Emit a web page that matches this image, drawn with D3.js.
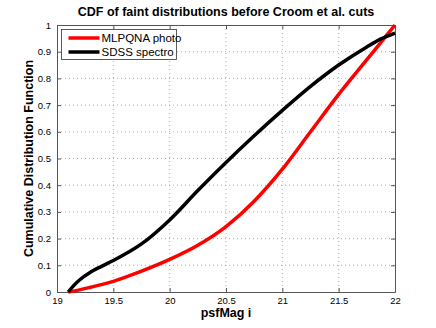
<!DOCTYPE html>
<html>
<head>
<meta charset="utf-8">
<script src="https://cdn.jsdelivr.net/npm/d3@7"></script>
<style>
  body { margin: 0; background: #fff; }
  svg { font-family: "Liberation Sans", Arial, sans-serif; }
  .grid line { stroke: #999; stroke-dasharray: 1,3; stroke-width: 0.8; }
</style>
</head>
<body>
<svg width="436" height="328"></svg>
<script>
// psfMag i values (x) for each series
const magsPhoto = [19.1, 19.2, 19.3, 19.5, 19.75, 20, 20.25, 20.5, 20.75, 21, 21.25, 21.5, 21.75, 21.875, 22];
const mlpqna    = [0, 0.008, 0.018, 0.04, 0.078, 0.122, 0.175, 0.245, 0.34, 0.46, 0.6, 0.74, 0.87, 0.935, 1.0];
const magsSpec  = [19.1, 19.15, 19.2, 19.3, 19.4, 19.5, 19.75, 20, 20.25, 20.5, 20.75, 21, 21.25, 21.5, 21.75, 21.875, 22];
const sdss      = [0, 0.025, 0.045, 0.075, 0.097, 0.118, 0.18, 0.27, 0.38, 0.485, 0.585, 0.68, 0.77, 0.85, 0.918, 0.948, 0.97];
const xTicks = [19, 19.5, 20, 20.5, 21, 21.5, 22];
const yTicks = [0, 0.1, 0.2, 0.3, 0.4, 0.5, 0.6, 0.7, 0.8, 0.9, 1];
const seriesNames = ["MLPQNA photo", "SDSS spectro"];
const seriesColors = ["#ff0000", "#000000"];

const svg = d3.select("svg");
const margin = { top: 25, left: 57, right: 41, bottom: 36 };
const width = +svg.attr("width") - margin.left - margin.right;
const height = +svg.attr("height") - margin.top - margin.bottom;

const g = svg.append("g").attr("transform", `translate(${margin.left},${margin.top})`);

const x = d3.scaleLinear().domain([19, 22]).range([0, width]);
const y = d3.scaleLinear().domain([0, 1]).range([height, 0]);

// grid
const grid = g.append("g").attr("class", "grid");
grid.selectAll(".gx").data(xTicks.slice(1, -1)).enter().append("line")
    .attr("x1", d => x(d)).attr("x2", d => x(d)).attr("y1", 0).attr("y2", height);
grid.selectAll(".gy").data(yTicks.slice(1, -1)).enter().append("line")
    .attr("x1", 0).attr("x2", width).attr("y1", d => y(d)).attr("y2", d => y(d));

// axes with inward ticks like matlab
function styleAxis(sel) {
    sel.select(".domain").attr("stroke", "#555");
    sel.selectAll(".tick line").attr("stroke", "#555");
    sel.selectAll(".tick text").attr("fill", "#000").style("font-size", "9.5px");
}
g.append("g").attr("transform", `translate(0,${height})`)
    .call(d3.axisBottom(x).tickValues(xTicks).tickSizeInner(-4).tickSizeOuter(0).tickPadding(5).tickFormat(d3.format("")))
    .call(styleAxis);
g.append("g")
    .call(d3.axisLeft(y).tickValues(yTicks).tickSizeInner(-4).tickSizeOuter(0).tickPadding(6).tickFormat(d3.format("")))
    .call(styleAxis);
g.append("g")
    .call(d3.axisTop(x).tickValues(xTicks).tickSizeInner(-4).tickSizeOuter(0).tickFormat(""))
    .call(styleAxis);
g.append("g").attr("transform", `translate(${width},0)`)
    .call(d3.axisRight(y).tickValues(yTicks).tickSizeInner(-4).tickSizeOuter(0).tickFormat(""))
    .call(styleAxis);

// lines
const line = d3.line()
    .curve(d3.curveMonotoneX)
    .x(d => x(d[0]))
    .y(d => y(d[1]));

[[magsPhoto, mlpqna], [magsSpec, sdss]].forEach(([ms, vals], i) => {
    g.append("path")
        .datum(ms.map((m, j) => [m, vals[j]]))
        .attr("fill", "none")
        .attr("stroke", seriesColors[i])
        .attr("stroke-width", 3.5)
        .attr("d", line);
});

// legend
const leg = g.append("g").attr("transform", "translate(4.5,4.5)");
leg.append("rect").attr("width", 115).attr("height", 30)
    .attr("fill", "#fff").attr("stroke", "#333").attr("stroke-width", 0.8);
seriesNames.forEach((name, i) => {
    const ly = 8.5 + i * 14;
    leg.append("line").attr("x1", 7).attr("x2", 38).attr("y1", ly).attr("y2", ly)
        .attr("stroke", seriesColors[i]).attr("stroke-width", 3.5);
    leg.append("text").attr("x", 40).attr("y", ly + 4)
        .style("font-size", "11.5px").text(name);
});

// titles
svg.append("text").attr("x", margin.left + width / 2).attr("y", 16)
    .attr("text-anchor", "middle").style("font-size", "12.5px").style("font-weight", "bold")
    .text("CDF of faint distributions before Croom et al. cuts");
svg.append("text").attr("x", margin.left + width / 2).attr("y", 317)
    .attr("text-anchor", "middle").style("font-size", "12.5px").style("font-weight", "bold")
    .text("psfMag i");
svg.append("text").attr("transform", `translate(33,${margin.top + height / 2}) rotate(-90)`)
    .attr("text-anchor", "middle").style("font-size", "12.5px").style("font-weight", "bold")
    .text("Cumulative Distribution Function");
</script>
</body>
</html>
